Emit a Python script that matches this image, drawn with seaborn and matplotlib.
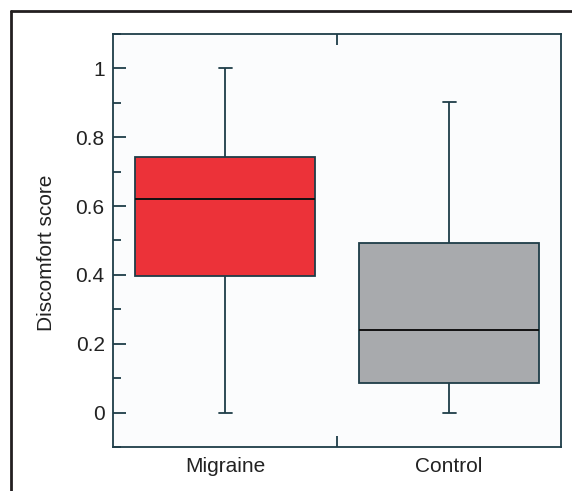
import numpy as np
import pandas as pd
import seaborn as sns
from matplotlib import pyplot as plt
from matplotlib.lines import Line2D
from matplotlib.ticker import MultipleLocator, FixedLocator

# Five-number summaries (min, Q1, median, Q3, max)
groups = ['Migraine', 'Control']
migraine_scores = [0.0, 0.398, 0.622, 0.744, 1.0]
control_scores = [0.0, 0.087, 0.241, 0.494, 0.901]
box_colors = ['#EC3239', '#A8AAAD']
yticks = [0, 0.2, 0.4, 0.6, 0.8, 1]
ytick_labels = ['0', '0.2', '0.4', '0.6', '0.8', '1']

line_col = '#1E3D48'

df = pd.DataFrame({'group': sum([[g] * len(s) for g, s in zip(groups, [migraine_scores, control_scores])], []),
                   'score': migraine_scores + control_scores})

sns.set_style('white')
plt.rcParams['font.family'] = ['Liberation Sans', 'DejaVu Sans']

fig = plt.figure(figsize=(5.72, 4.91), dpi=100)
ax = fig.add_axes([0.1976, 0.0896, 0.7832, 0.8412])
ax.set_facecolor('#FBFCFD')

sns.boxplot(data=df, x='group', y='score', hue='group', palette=dict(zip(groups, box_colors)),
            saturation=1, width=0.8, whis=np.inf, linewidth=1.3, linecolor=line_col, legend=False, ax=ax,
            medianprops={'color': '#111111', 'linewidth': 1.4},
            capwidths=0.058)

ax.set_xlim(-0.5, 1.5)
ax.set_ylim(-0.1, 1.1)
ax.set_xlabel('')
ax.set_ylabel('Discomfort score', fontsize=15, color='#222222')
ax.yaxis.set_label_coords(-0.128, 0.47)

# y ticks: major + minor, inward, left only
ax.set_yticks(yticks)
ax.set_yticklabels(ytick_labels)
ax.yaxis.set_minor_locator(MultipleLocator(0.1))
ax.tick_params(axis='y', which='major', direction='in', length=9, width=1.3, color=line_col,
               labelsize=15, labelcolor='#222222', pad=6, left=True, right=False)
ax.tick_params(axis='y', which='minor', direction='in', length=6, width=1.3, color=line_col,
               left=True, right=False)

# x: category labels without marks, one divider tick between groups on top and bottom
ax.set_xticks([0, 1])
ax.set_xticklabels(groups)
ax.xaxis.set_minor_locator(FixedLocator([0.5]))
ax.tick_params(axis='x', which='major', length=0, labelsize=15, labelcolor='#222222', pad=7)
ax.tick_params(axis='x', which='minor', direction='in', length=8, width=1.3, color=line_col,
               top=True, bottom=True)

for s in ax.spines.values():
    s.set_visible(True)
    s.set_color(line_col)
    s.set_linewidth(1.3)

# outer frame from the source page (left and top edges)
fig.add_artist(Line2D([11 / 572, 11 / 572], [0, 1 - 11 / 491], transform=fig.transFigure,
                      color='#231F20', linewidth=2))
fig.add_artist(Line2D([11 / 572, 1], [1 - 11 / 491, 1 - 11 / 491], transform=fig.transFigure,
                      color='#231F20', linewidth=2))

fig.savefig('out.png', dpi=100)
